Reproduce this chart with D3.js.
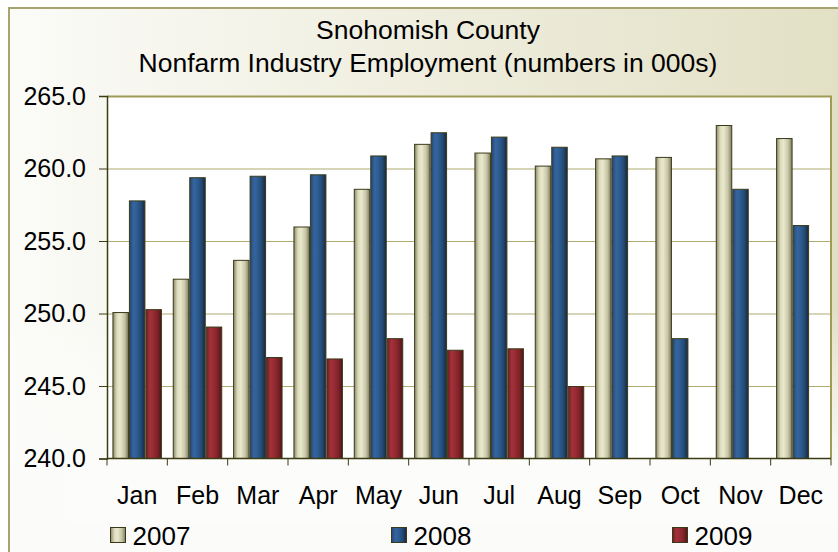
<!DOCTYPE html>
<html>
<head>
<meta charset="utf-8">
<script src="https://cdn.jsdelivr.net/npm/d3@7"></script>
<style>
  body { margin: 0; background: #fff; }
  svg { display: block; font-family: "Liberation Sans", Arial, sans-serif; }
</style>
</head>
<body>
<script>
  // Data
  var months = ["Jan", "Feb", "Mar", "Apr", "May", "Jun", "Jul", "Aug", "Sep", "Oct", "Nov", "Dec"];
  var years = ["2007", "2008", "2009"];
  var values2007 = [250.1, 252.4, 253.7, 256.0, 258.6, 261.7, 261.1, 260.2, 260.7, 260.8, 263.0, 262.1];
  var values2008 = [257.8, 259.4, 259.5, 259.6, 260.9, 262.5, 262.2, 261.5, 260.9, 248.3, 258.6, 256.1];
  var values2009 = [250.3, 249.1, 247.0, 246.9, 248.3, 247.5, 247.6, 245.0, null, null, null, null];
  var yTicks = [240, 245, 250, 255, 260, 265];
  var titleLines = ["Snohomish County", "Nonfarm Industry Employment (numbers in 000s)"];

  var seriesValues = [values2007, values2008, values2009];

  // Set the dimensions
  var W = 838, H = 552;
  var margin = { top: 96, right: 7, bottom: 93.5, left: 107 },
    width = W - margin.left - margin.right,
    height = H - margin.top - margin.bottom;

  var svg = d3.select("body").append("svg")
    .attr("width", W)
    .attr("height", H);

  var defs = svg.append("defs");

  // background gradients
  var bg = defs.append("linearGradient").attr("id", "bg")
    .attr("x1", 0).attr("y1", 0).attr("x2", 1).attr("y2", 0);
  bg.append("stop").attr("offset", "0%").attr("stop-color", "#fbfbf8");
  bg.append("stop").attr("offset", "100%").attr("stop-color", "#e2e0c4");

  var fade = defs.append("linearGradient").attr("id", "fade")
    .attr("x1", 0).attr("y1", 0).attr("x2", 0).attr("y2", 1);
  fade.append("stop").attr("offset", "55%").attr("stop-color", "#fff").attr("stop-opacity", 0);
  fade.append("stop").attr("offset", "85%").attr("stop-color", "#fbfbf9").attr("stop-opacity", 1);

  // bar gradients (cylinder look)
  var barColors = [
    ["#8a8868", "#dcdabc", "#ebe9cc", "#c8c6a8", "#7e7c5e"],
    ["#24456e", "#3564a0", "#2f5f94", "#244a74", "#16283f"],
    ["#6e1e24", "#a3323a", "#9a2c34", "#7c2228", "#501418"]
  ];
  barColors.forEach(function (c, i) {
    var g = defs.append("linearGradient").attr("id", "bar" + i)
      .attr("x1", 0).attr("y1", 0).attr("x2", 1).attr("y2", 0);
    [0, 25, 45, 75, 100].forEach(function (o, j) {
      g.append("stop").attr("offset", o + "%").attr("stop-color", c[j]);
    });
  });

  // Background and frame
  svg.append("rect")
    .attr("x", 9).attr("y", 8)
    .attr("width", W).attr("height", H)
    .attr("fill", "url(#bg)");
  svg.append("rect")
    .attr("x", 9).attr("y", 8)
    .attr("width", W).attr("height", H)
    .attr("fill", "url(#fade)");
  svg.append("rect")
    .attr("x", 65).attr("y", 460)
    .attr("width", W - 65).attr("height", 62)
    .attr("fill", "#fcfcfa");
  svg.append("rect")
    .attr("x", 9).attr("y", 8)
    .attr("width", W + 20).attr("height", H + 20)
    .attr("fill", "none")
    .attr("stroke", "#a8a472")
    .attr("stroke-width", 2);

  // Title
  svg.append("g").selectAll("text")
    .data(titleLines)
    .enter().append("text")
    .attr("x", 428)
    .attr("y", function (d, i) { return 39 + i * 32.5; })
    .attr("text-anchor", "middle")
    .attr("font-size", "26.5px")
    .attr("fill", "#000")
    .text(function (d) { return d; });

  var g = svg.append("g")
    .attr("transform", "translate(" + margin.left + "," + margin.top + ")");

  // Scales
  var x0 = d3.scaleBand().domain(months).range([0, width])
    .paddingInner(0.18).paddingOuter(0.09);
  var x1 = d3.scaleBand().domain(years).range([0, x0.bandwidth()]);
  var y = d3.scaleLinear().domain([240, 265]).range([height, 0]);

  // plot area
  g.append("rect")
    .attr("width", width).attr("height", height)
    .attr("fill", "#fff");

  // gridlines
  g.selectAll(".grid")
    .data(yTicks.slice(1, -1))
    .enter().append("line")
    .attr("x1", 0).attr("x2", width)
    .attr("y1", function (d) { return y(d) + 0.5; })
    .attr("y2", function (d) { return y(d) + 0.5; })
    .attr("stroke", "#b0ac70")
    .attr("stroke-width", 1.2);

  // plot border top / right
  g.append("path")
    .attr("d", "M0," + (y(265) + 0.5) + "H" + width + "V" + height)
    .attr("fill", "none")
    .attr("stroke", "#a09c58")
    .attr("stroke-width", 2);

  // Bars
  var groups = g.selectAll(".month")
    .data(months)
    .enter().append("g")
    .attr("transform", function (d) { return "translate(" + x0(d) + ",0)"; });

  groups.selectAll("rect")
    .data(function (m, mi) {
      return years.map(function (yr, si) {
        return { year: yr, s: si, value: seriesValues[si][mi] };
      }).filter(function (d) { return d.value != null; });
    })
    .enter().append("rect")
    .attr("x", function (d) { return x1(d.year) + 0.5; })
    .attr("y", function (d) { return y(d.value) + 0.5; })
    .attr("width", x1.bandwidth() - 1)
    .attr("height", function (d) { return height - y(d.value) - 0.5; })
    .attr("fill", function (d) { return "url(#bar" + d.s + ")"; })
    .attr("stroke", "#3a3a1a")
    .attr("stroke-width", 1);

  // Y axis
  var yAxis = d3.axisLeft(y)
    .tickValues(yTicks)
    .tickFormat(d3.format(".1f"))
    .tickSize(8)
    .tickPadding(13);
  var ya = g.append("g").call(yAxis);
  ya.select(".domain").attr("stroke", "#3c3c14").attr("stroke-width", 1.5);
  ya.selectAll(".tick line").attr("stroke", "#3c3c14");
  ya.selectAll("text").attr("font-size", "25px").attr("fill", "#000")
    .attr("font-family", "Liberation Sans, Arial, sans-serif");

  // X axis
  var xAxis = d3.axisBottom(x0).tickSize(0).tickPadding(28);
  var xa = g.append("g")
    .attr("transform", "translate(0," + height + ")")
    .call(xAxis);
  xa.select(".domain").remove();
  xa.selectAll("text").attr("font-size", "25px").attr("fill", "#000")
    .attr("font-family", "Liberation Sans, Arial, sans-serif");

  g.append("line")
    .attr("x1", 0).attr("x2", width)
    .attr("y1", height).attr("y2", height)
    .attr("stroke", "#3c3c14")
    .attr("stroke-width", 1.5);

  // ticks between categories
  var bounds = months.map(function (m) { return x0(m) - x0.step() * x0.paddingInner() / 2; });
  bounds.push(width);
  g.selectAll(".xtick")
    .data(bounds)
    .enter().append("line")
    .attr("x1", function (d) { return d; })
    .attr("x2", function (d) { return d; })
    .attr("y1", height).attr("y2", height + 7)
    .attr("stroke", "#3c3c14");

  // Legend
  var legend = svg.append("g").selectAll("g")
    .data(years)
    .enter().append("g")
    .attr("transform", function (d, i) { return "translate(" + (110.5 + i * 281) + ",527.5)"; });
  legend.append("rect")
    .attr("width", 15).attr("height", 15)
    .attr("fill", function (d, i) { return "url(#bar" + i + ")"; })
    .attr("stroke", "#3a3a1a");
  legend.append("text")
    .attr("x", 22).attr("y", 17.5)
    .attr("font-size", "26px")
    .attr("fill", "#000")
    .text(function (d) { return d; });
</script>
</body>
</html>
